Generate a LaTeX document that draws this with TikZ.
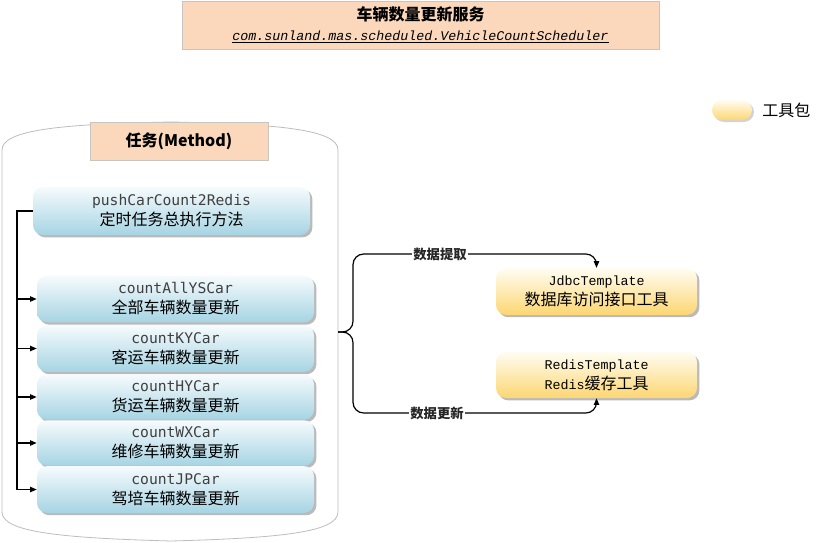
\documentclass[tikz,border=0pt]{standalone}
\usepackage{fontspec}
\setmainfont{Noto Sans CJK SC}
\newfontfamily\codefont{DejaVu Sans Mono}
\newfontfamily\monofont{Liberation Mono}
\usetikzlibrary{shadows,arrows.meta}
\definecolor{peach}{HTML}{FBD8BC}
\definecolor{peachline}{HTML}{C8C4C0}
\definecolor{bluetop}{HTML}{F6FBFD}
\definecolor{bluebot}{HTML}{A6D4E3}
\definecolor{yeltop}{HTML}{FFFDF2}
\definecolor{yelbot}{HTML}{FCD672}
\definecolor{codegray}{HTML}{404040}
\definecolor{cont}{HTML}{BDBDBD}
\newcommand{\codeline}[1]{{\codefont\fontsize{11}{15}\selectfont\color{codegray}#1}}
\newcommand{\monoline}[1]{{\monofont\fontsize{10}{15}\selectfont #1}}
\begin{document}
\begin{tikzpicture}[x=0.75pt,y=-0.75pt,
  font=\fontsize{12}{15}\selectfont,
  headbox/.style={draw=peachline,fill=peach,line width=0.6pt,inner sep=0pt,align=center},
  bluebox/.style={rounded corners=7.5pt,top color=bluetop,bottom color=bluebot,draw=none,
     minimum width=207.75pt,minimum height=35pt,inner sep=0pt,align=center,
     drop shadow={shadow xshift=1.8pt,shadow yshift=-1.8pt,opacity=0.45,fill=black!60}},
  yelbox/.style={rounded corners=7.5pt,top color=yeltop,bottom color=yelbot,draw=none,
     minimum width=150.75pt,minimum height=35pt,inner sep=0pt,align=center,
     drop shadow={shadow xshift=1.8pt,shadow yshift=-1.8pt,opacity=0.45,fill=black!60}},
  conn/.style={line width=0.9pt,black},
  arr/.style={conn,-{Triangle[length=5pt,width=4pt]}},
  elabel/.style={fill=white,inner sep=1pt,font=\fontsize{10}{12}\selectfont\bfseries,text=black!85}
]
\useasboundingbox (0,0) rectangle (820,542);

% title
\node[headbox,minimum width=357.75pt,minimum height=36pt] (title) at (420.5,25)
  {{\fontsize{12}{15}\selectfont\bfseries 车辆数量更新服务}\\
   {\monofont\itshape\fontsize{10}{15}\selectfont\underline{com.sunland.mas.scheduled.VehicleCountScheduler}}};

% legend
\node[rounded corners=7.5pt,top color=yeltop,bottom color=yelbot,minimum width=30pt,minimum height=15pt,
  drop shadow={shadow xshift=1.5pt,shadow yshift=-1.5pt,opacity=0.35,fill=black!50}] (legbox) at (732,110) {};
\node[anchor=west,inner sep=0pt] (legtext) at (762,110) {工具包};

% container
\draw[cont,fill=white,line width=0.6pt] (2,150) .. controls (2,130) and (60,124) .. (171,122)
  .. controls (282,124) and (338,130) .. (338,150) -- (338,512)
  .. controls (338,532) and (282,538) .. (171,541)
  .. controls (60,538) and (2,532) .. (2,512) -- cycle;
\coordinate (ce) at (338,332);

\node[headbox,minimum width=133.5pt,minimum height=28.5pt] (method) at (179,141)
  {\fontsize{12}{15}\selectfont\bfseries 任务(Method)};

% method boxes
\node[bluebox,minimum height=36pt] (push) at (171.5,211) {\codeline{pushCarCount2Redis}\\定时任务总执行方法};
\node[bluebox] (ys) at (175.5,299) {\codeline{countAllYSCar}\\全部车辆数量更新};
\node[bluebox] (ky) at (175.5,348.5) {\codeline{countKYCar}\\客运车辆数量更新};
\node[bluebox,minimum height=34pt] (hy) at (175.5,397) {\codeline{countHYCar}\\货运车辆数量更新};
\node[bluebox,minimum height=34pt] (wx) at (175.5,443) {\codeline{countWXCar}\\维修车辆数量更新};
\node[bluebox] (jp) at (175.5,489.5) {\codeline{countJPCar}\\驾培车辆数量更新};

% tool boxes
\node[yelbox] (jdbc) at (596.5,291.5) {\monoline{JdbcTemplate}\\数据库访问接口工具};
\node[yelbox,minimum height=34.5pt] (redis) at (596.5,375) {\monoline{RedisTemplate}\\\monoline{Redis}缓存工具};

% left bus
\coordinate (bus) at (17,0);
\draw[arr] (push.west) -- (push.west -| bus) -- (jp.west -| bus) -- (jp.west);
\foreach \n in {ys,ky,hy,wx} \draw[arr] (\n.west -| bus) -- (\n.west);

% brace connectors
\coordinate (bx) at (353,332);
\coordinate (btop) at (353,254);
\coordinate (bbot) at (353,413);
\draw[arr,rounded corners=8pt] (ce) -- (bx) -- (btop) -- (btop -| jdbc.north) -- (jdbc.north);
\draw[arr,rounded corners=8pt] (ce) -- (bx) -- (bbot) -- (bbot -| redis.south) -- (redis.south);
\node[elabel] (l1) at (440,254) {数据提取};
\node[elabel] (l2) at (437,413) {数据更新};
\end{tikzpicture}
\end{document}
